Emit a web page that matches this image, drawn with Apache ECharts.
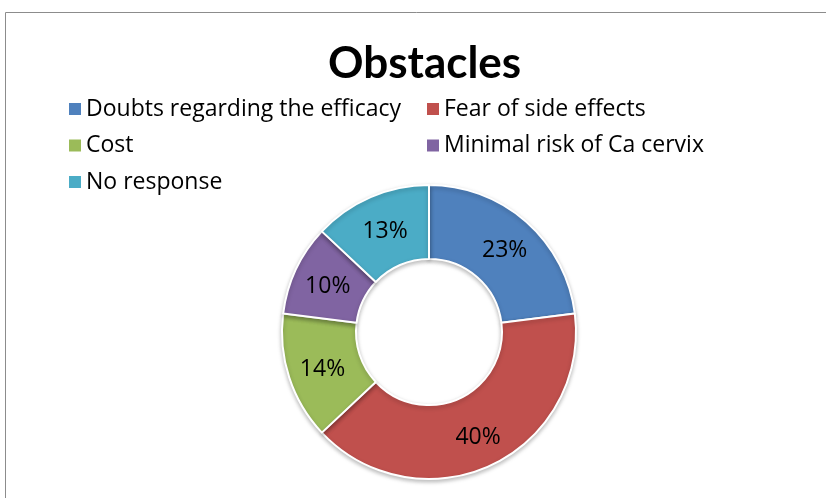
<!DOCTYPE html>
<html>
<head>
<meta charset="utf-8">
<script src="https://cdn.jsdelivr.net/npm/echarts@6/dist/echarts.min.js"></script>
<style>
    html, body { margin: 0; padding: 0; background: #fff; }
    #chart { width: 826px; height: 498px; }
</style>
</head>
<body>
<div id="chart"></div>
<script>
    // data
    var categories = ['Doubts regarding the efficacy', 'Fear of side effects', 'Cost', 'Minimal risk of Ca cervix', 'No response'];
    var values = [23, 40, 14, 10, 13];
    var colors = ['#4F81BD', '#C0504D', '#9BBB59', '#8064A2', '#4BACC6'];

    var pieData = categories.map(function (name, i) {
        return { name: name, value: values[i], itemStyle: { color: colors[i] } };
    });

    var chart = echarts.init(document.getElementById('chart'));
    var legendText = { fontFamily: 'Open Sans', fontSize: 23, lineHeight: 24, color: '#000' };

    var option = {
        animation: false,
        title: {
            text: 'Obstacles',
            left: 323,
            top: 37,
            textStyle: { fontFamily: 'Lato', fontWeight: 'bold', fontSize: 44, color: '#000' }
        },
        legend: [
            {
                orient: 'vertical',
                left: 64,
                top: 92,
                itemWidth: 12,
                itemHeight: 12,
                itemGap: 12.5,
                itemStyle: { borderWidth: 0 },
                icon: 'rect',
                data: [categories[0], categories[2], categories[4]],
                textStyle: legendText
            },
            {
                orient: 'vertical',
                left: 422,
                top: 92,
                itemWidth: 12,
                itemHeight: 12,
                itemGap: 12.5,
                itemStyle: { borderWidth: 0 },
                icon: 'rect',
                data: [categories[1], categories[3]],
                textStyle: legendText
            }
        ],
        graphic: [
            {
                type: 'rect',
                shape: { x: 5.5, y: 12.5, width: 900, height: 600 },
                style: { fill: 'none', stroke: '#8c8c8c', lineWidth: 1 },
                silent: true
            }
        ],
        series: [
            {
                type: 'pie',
                center: [429, 332],
                radius: [73, 147],
                startAngle: 90,
                clockwise: true,
                itemStyle: {
                    borderColor: '#fff',
                    borderWidth: 2,
                    shadowColor: 'rgba(0,0,0,0.25)',
                    shadowBlur: 4,
                    shadowOffsetY: 2
                },
                label: {
                    position: 'inside',
                    formatter: '{c}%',
                    fontFamily: 'Open Sans',
                    fontSize: 23,
                    color: '#000',
                    offset: [1, 3]
                },
                labelLine: { show: false },
                emphasis: { disabled: true },
                data: pieData
            }
        ]
    };
    chart.setOption(option);
</script>
</body>
</html>
